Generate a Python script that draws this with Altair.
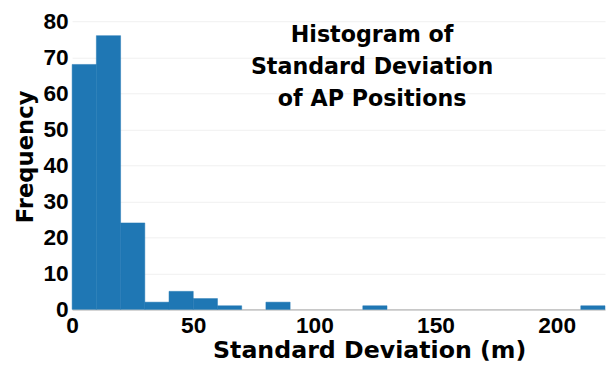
import altair as alt
import pandas as pd

bin_start = [0, 10, 20, 30, 40, 50, 60, 80, 120, 210]
bin_width = 10
counts = [68, 76, 24, 2, 5, 3, 1, 2, 1, 1]
title_lines = ["Histogram of", "Standard Deviation", "of AP Positions"]
x_ticks = [0, 50, 100, 150, 200]
y_ticks = [0, 10, 20, 30, 40, 50, 60, 70, 80]

df = pd.DataFrame({
    "start": bin_start,
    "end": [s + bin_width for s in bin_start],
    "count": counts,
})
tdf = pd.DataFrame({"line": title_lines, "idx": list(range(len(title_lines)))})

W, H = 540, 292

bars = alt.Chart(df).mark_rect(color="#1f77b4", stroke="#1f77b4", strokeWidth=0.5).encode(
    x=alt.X("start:Q",
            scale=alt.Scale(domain=[0, 220], nice=False, zero=True),
            axis=alt.Axis(values=x_ticks, title="Standard Deviation (m)",
                          grid=False, ticks=False, domain=True,
                          domainColor="#c8c8c8", domainWidth=2,
                          labelFont="Liberation Sans", labelFontSize=23,
                          labelFontWeight="bold", labelColor="#000",
                          labelPadding=5, labelFlush=False,
                          titleFont="DejaVu Sans", titleFontSize=24,
                          titleFontWeight="bold", titleColor="#000",
                          titleX=301, titlePadding=2)),
    x2="end:Q",
    y=alt.Y("count:Q",
            scale=alt.Scale(domain=[0, 80], nice=False),
            axis=alt.Axis(values=y_ticks, title="Frequency",
                          grid=True, gridColor="#f0f0f0", gridWidth=1,
                          ticks=False, domain=False,
                          labelFont="Liberation Sans", labelFontSize=23,
                          labelFontWeight="bold", labelColor="#000",
                          labelPadding=4, labelFlush=False,
                          titleFont="DejaVu Sans", titleFontSize=23,
                          titleFontWeight="bold", titleColor="#000",
                          titleY=137, titlePadding=6)),
    y2=alt.datum(0),
)

text = alt.Chart(tdf).mark_text(
    font="DejaVu Sans", fontSize=22.5, fontWeight="bold", color="#000",
    align="center", baseline="middle",
).encode(
    x=alt.value(304),
    y=alt.Y("idx:Q", scale=alt.Scale(domain=[0, 2], range=[14, 79]), axis=None),
    text="line:N",
)

chart = alt.layer(bars, text).resolve_scale(y="independent").properties(
    width=W, height=H,
    autosize=alt.AutoSizeParams(type="none"),
    padding={"left": 65, "top": 11, "right": 1, "bottom": 56},
).configure_view(stroke=None)

chart.save("out.html", embed_options={"renderer": "svg", "actions": False})
